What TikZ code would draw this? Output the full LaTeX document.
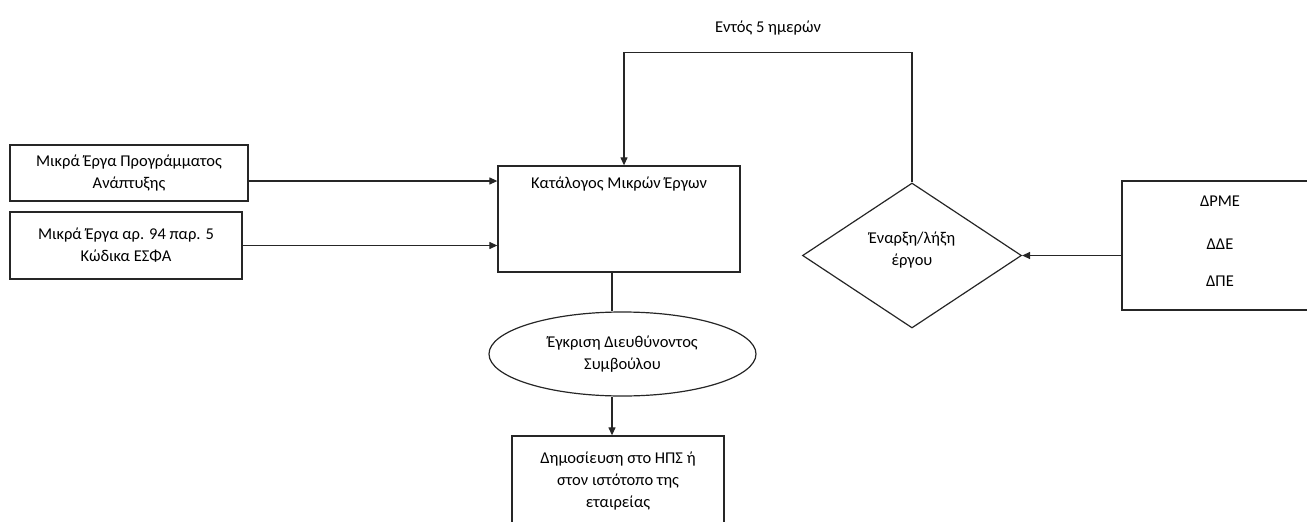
\documentclass[tikz,border=0pt]{standalone}
\usepackage{fontspec}
\setmainfont{Carlito}
\usetikzlibrary{shapes.geometric,arrows.meta}

\tikzset{
  box/.style={draw, line width=1.3pt, align=center, inner sep=2pt},
  arr/.style={-{Triangle[length=8pt,width=7pt]}},
}

\begin{document}
\begin{tikzpicture}[x=1pt,y=-1pt,line width=1.2pt,draw=black!85,font=\fontsize{16.5}{22}\selectfont]
\useasboundingbox (0,0) rectangle (1307,522);
% inputs on the left
\node[box, minimum width=238, minimum height=56] (mpa) at (129,173) {Μικρά Έργα Προγράμματος\\Ανάπτυξης};
\node[box, minimum width=232, minimum height=67] (esfa) at (126,245.5) {Μικρά Έργα αρ. 94 παρ. 5\\Κώδικα ΕΣΦΑ};
% main column
\node[box, minimum width=242, minimum height=106,
  label={[anchor=north,yshift=-8pt]north:Κατάλογος Μικρών Έργων}] (cat) at (619,219) {};
\node[draw, ellipse, line width=1.2pt, align=center, inner sep=0pt,
  minimum width=267, minimum height=84] (ceo) at (622.5,354) {Έγκριση Διευθύνοντος\\Συμβούλου};
\node[box, minimum width=212, minimum height=90] (pub) at (618,481) {Δημοσίευση στο ΗΠΣ ή\\στον ιστότοπο της\\εταιρείας};
% right side
\node[draw, diamond, line width=1.2pt, align=center, inner sep=0pt,
  minimum width=219, minimum height=145] (dia) at (912,255.5) {Έναρξη/λήξη\\έργου\\[-8pt]};
\node[box, minimum width=196, minimum height=129] (dir) at (1220,245.5) {ΔΡΜΕ\\[21pt]ΔΔΕ\\[15pt]ΔΠΕ\\[-14pt]};

% connectors
\draw[arr] ([yshift=-8pt]mpa.east) -- ([yshift=-8pt]mpa.east -| cat.west);
\draw[arr] (esfa.east) -- (esfa.east -| cat.west);
\draw ([xshift=-7pt]cat.south) -- ([xshift=-10.5pt]ceo.north);
\draw[arr] ([xshift=-10.5pt]ceo.south) -- ([xshift=-6pt]pub.north);
\draw[arr] (dia.east -| dir.west) -- (dia.east);
\draw[arr] (dia.north) |- ++(0,-130) -| node[pos=0.25, above=13pt] (days) {Εντός 5 ημερών} ([xshift=5pt]cat.north);
\end{tikzpicture}
\end{document}
